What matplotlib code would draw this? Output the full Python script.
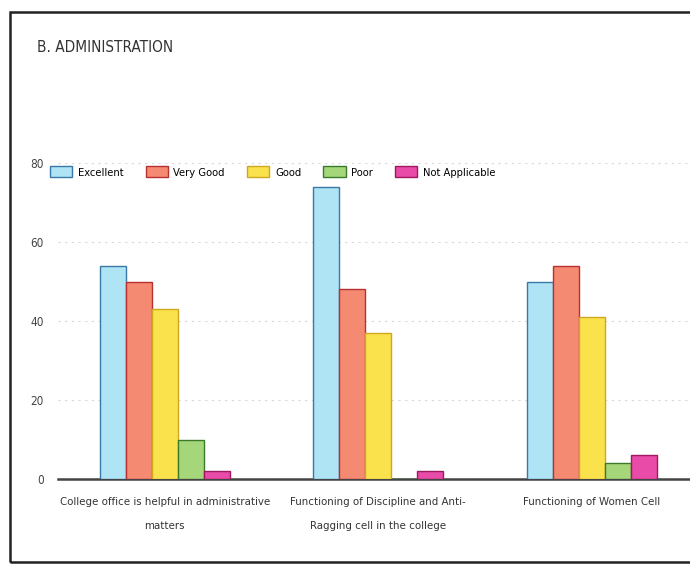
import numpy as np
import matplotlib.pyplot as plt
from matplotlib.patches import Rectangle

categories = ["College office is helpful in administrative\nmatters",
              "Functioning of Discipline and Anti-\nRagging cell in the college",
              "Functioning of Women Cell"]
series_names = ["Excellent", "Very Good", "Good", "Poor", "Not Applicable"]
excellent = [54, 74, 50]
very_good = [50, 48, 54]
good = [43, 37, 41]
poor = [10, 0, 4]
not_applicable = [2, 2, 6]
yticks = [0, 20, 40, 60, 80]

values = [excellent, very_good, good, poor, not_applicable]
fills = ["#aee4f4", "#f48a72", "#fae24c", "#a6d67a", "#e84ca8"]
edges = ["#3a78a8", "#b83030", "#d0a820", "#3a7a2a", "#a01860"]

font = "DejaVu Sans"
stretch = "condensed"

fig = plt.figure(figsize=(6.9, 5.65), dpi=100)
ax = fig.add_axes([58 / 690, 1 - 479 / 565, 640.5 / 690, 316 / 565])

x = np.arange(len(categories))
w = 0.122
for i, (name, vals) in enumerate(zip(series_names, values)):
    ax.bar(x + (i - 2) * w, vals, width=w, color=fills[i], edgecolor=edges[i],
           linewidth=1.0, label=name, zorder=3)

ax.set_xlim(-0.5, 2.5)
ax.set_ylim(0, 80)
ax.set_yticks(yticks)
ax.set_yticklabels([str(t) for t in yticks], family=font, stretch=stretch,
                   fontsize=8.5, color="#444444")
ax.set_xticks(x)
ax.set_xticklabels(categories, family=font, stretch=stretch, fontsize=8.2,
                   color="#333333", linespacing=2.8)
ax.tick_params(axis="both", length=0)
ax.tick_params(axis="y", pad=10)
ax.tick_params(axis="x", pad=13)
for s in ["top", "right", "left"]:
    ax.spines[s].set_visible(False)
ax.spines["bottom"].set_color("#444444")
ax.spines["bottom"].set_linewidth(1.8)
ax.grid(axis="y", color="#d8d8d8", linestyle=(0, (2, 4)), linewidth=0.8, zorder=0)

fig.legend(loc="center left", bbox_to_anchor=(40 / 690, 1 - 172 / 565), ncol=5,
           frameon=False, prop={"family": font, "stretch": stretch, "size": 8},
           handlelength=2.0, handleheight=1.1, handletextpad=0.5, columnspacing=2.0)

fig.text(37 / 690, 1 - 47 / 565, "B. ADMINISTRATION", family=font, stretch=stretch,
         fontsize=11, color="#333333", va="center", ha="left")

# scanned page frame
fig.patches.append(Rectangle((10 / 690, 1 - 562 / 565), 1.0, (562 - 12) / 565,
                             transform=fig.transFigure, fill=False,
                             edgecolor="#222222", linewidth=1.8))

fig.savefig("out.png", dpi=100)
